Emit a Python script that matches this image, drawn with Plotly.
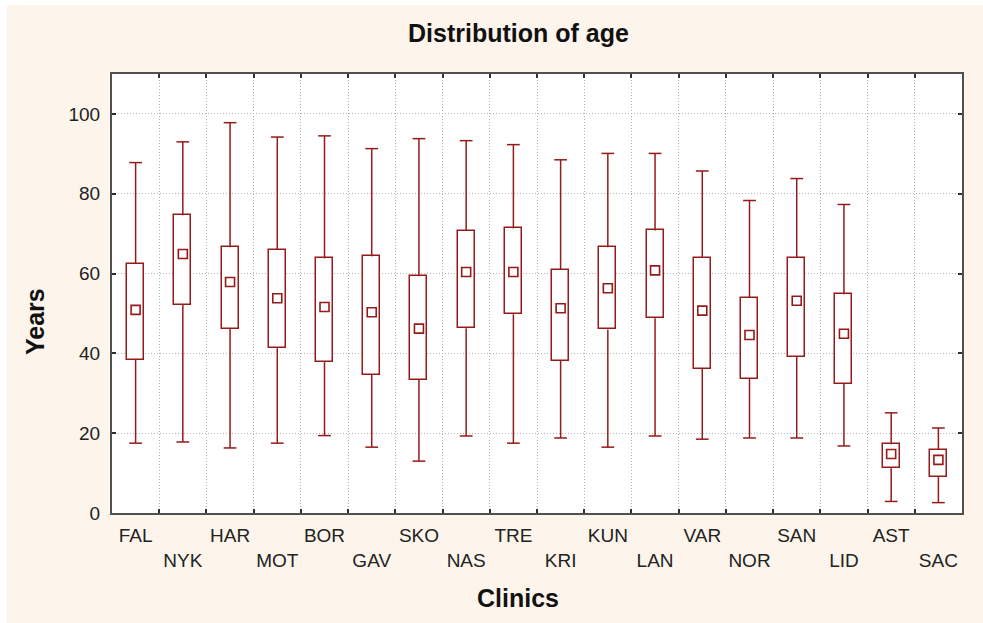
import plotly.graph_objects as go

# Age distribution per clinic: range (min-max), quartile box and median
clinics = ["FAL", "NYK", "HAR", "MOT", "BOR", "GAV", "SKO", "NAS", "TRE",
           "KRI", "KUN", "LAN", "VAR", "NOR", "SAN", "LID", "AST", "SAC"]
age_min = [17.5, 17.8, 16.3, 17.5, 19.4, 16.5, 13.0, 19.3, 17.5,
           18.8, 16.5, 19.3, 18.5, 18.8, 18.8, 16.8, 2.9, 2.6]
age_q1 = [38.4, 52.1, 46.1, 41.3, 37.8, 34.7, 33.3, 46.3, 49.8,
          38.1, 46.0, 48.8, 36.2, 33.7, 39.1, 32.4, 11.2, 9.0]
age_median = [50.9, 64.9, 57.9, 53.8, 51.6, 50.3, 46.2, 60.4, 60.4,
              51.3, 56.3, 60.8, 50.7, 44.6, 53.2, 44.9, 14.8, 13.3]
age_q3 = [62.5, 74.6, 66.6, 66.0, 63.8, 64.3, 59.3, 70.7, 71.3,
          60.9, 66.6, 70.8, 64.0, 53.9, 64.0, 54.8, 17.2, 15.9]
age_max = [87.8, 93.0, 97.8, 94.2, 94.5, 91.3, 93.8, 93.3, 92.3,
           88.5, 90.1, 90.1, 85.7, 78.3, 83.8, 77.3, 25.1, 21.3]

y_ticks = [0, 20, 40, 60, 80, 100]

RED = "#951a1a"
CREAM = "#fdf5eb"
GRID = "#b4b4b4"
FONT = "Liberation Sans, Arial, sans-serif"
BOX_W = 0.36      # box width in category units
CAP_HALF = 0.135  # half width of whisker caps in category units

pos = list(range(len(clinics)))
# labels alternate between two rows so neighbours do not collide
tick_text = [c if i % 2 == 0 else "<br>" + c for i, c in enumerate(clinics)]

# whisker segments (box edge -> extreme value) plus a cap at each extreme
wx, wy = [], []
for p, lo, q1, q3, hi in zip(pos, age_min, age_q1, age_q3, age_max):
    for edge, end in ((q3, hi), (q1, lo)):
        wx += [p, p, None, p - CAP_HALF, p + CAP_HALF, None]
        wy += [edge, end, None, end, end, None]

fig = go.Figure()

fig.add_trace(go.Scatter(
    x=wx, y=wy, mode="lines",
    line=dict(color=RED, width=1.5),
    showlegend=False, hoverinfo="skip",
))

# interquartile boxes
fig.add_trace(go.Bar(
    x=pos,
    y=[q3 - q1 for q1, q3 in zip(age_q1, age_q3)],
    base=age_q1,
    width=BOX_W,
    marker=dict(color="white", line=dict(color=RED, width=1.5)),
    showlegend=False, hoverinfo="skip",
))

# medians
fig.add_trace(go.Scatter(
    x=pos,
    y=age_median,
    mode="markers",
    marker=dict(symbol="square-open", size=9, color=RED,
                line=dict(color=RED, width=1.6)),
    showlegend=False,
    hoverinfo="skip",
))

axis_line = dict(showline=True, linecolor="#505050", linewidth=2, mirror="ticks")

fig.update_xaxes(
    range=[-0.5, len(clinics) - 0.5],
    tickmode="array",
    tickvals=pos,
    ticktext=tick_text,
    ticks="",
    showgrid=False,
    zeroline=False,
    tickfont=dict(family=FONT, size=19, color="#222222"),
    ticklabelstandoff=4,
    minor=dict(
        tickmode="array",
        tickvals=[p + 0.5 for p in pos[:-1]],
        ticks="inside",
        ticklen=4,
        tickwidth=1.5,
        tickcolor="#303030",
        showgrid=True,
        gridcolor=GRID,
        griddash="1px,2px",
        gridwidth=1,
    ),
    **axis_line,
)

fig.update_yaxes(
    range=[0, 110],
    tickmode="array",
    tickvals=y_ticks,
    ticktext=[str(v) for v in y_ticks],
    ticks="inside",
    ticklen=4,
    tickwidth=1.5,
    tickcolor="#303030",
    showgrid=True,
    gridcolor=GRID,
    griddash="1px,2px",
    gridwidth=1,
    zeroline=False,
    tickfont=dict(family=FONT, size=19, color="#222222"),
    ticklabelstandoff=6,
    **axis_line,
)

L, R, T, B = 112, 21, 74, 110
W, H = 983, 623
pw, ph = W - L - R, H - T - B


def px_x(x):
    return (x - L) / pw


def px_y(y):
    return (H - B - y) / ph


title_font = dict(family=FONT, size=25, color="#111111")
fig.add_annotation(text="<b>Distribution of age</b>", xref="paper", yref="paper",
                   x=px_x(518), y=px_y(33), showarrow=False, font=title_font,
                   xanchor="center", yanchor="middle")
fig.add_annotation(text="<b>Clinics</b>", xref="paper", yref="paper",
                   x=px_x(518), y=px_y(598), showarrow=False, font=title_font,
                   xanchor="center", yanchor="middle")
fig.add_annotation(text="<b>Years</b>", xref="paper", yref="paper",
                   x=px_x(35), y=px_y(322), showarrow=False, font=title_font,
                   textangle=-90, xanchor="center", yanchor="middle")

# thin white edge around the cream panel
fig.add_shape(type="rect", xref="paper", yref="paper",
              x0=px_x(0), x1=px_x(7), y0=px_y(H), y1=px_y(0),
              fillcolor="white", line_width=0, layer="below")
fig.add_shape(type="rect", xref="paper", yref="paper",
              x0=px_x(0), x1=px_x(W), y0=px_y(5), y1=px_y(0),
              fillcolor="white", line_width=0, layer="below")

fig.update_layout(
    width=W, height=H,
    margin=dict(l=L, r=R, t=T, b=B),
    paper_bgcolor=CREAM,
    plot_bgcolor="white",
    font=dict(family=FONT),
    bargap=0,
)

fig.write_html("out.html")
